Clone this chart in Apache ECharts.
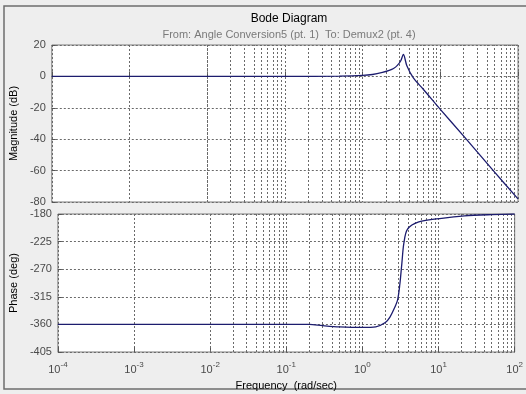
<!DOCTYPE html>
<html>
<head>
<meta charset="utf-8">
<script src="https://cdn.jsdelivr.net/npm/echarts@6/dist/echarts.min.js"></script>
<style>
	html, body { margin: 0; padding: 0; background: #eeeeee; }
	#main { width: 526px; height: 394px; }
</style>
</head>
<body>
<div id="main"></div>
<script>
// ==== data ====
const magFreq = [1e-4, 1e-3, 1e-2, 0.1, 0.5, 1, 1.34, 1.8, 2.2, 2.5, 2.8, 3.1, 3.35, 3.7, 4.5, 6, 10, 20, 50, 100];
const magDb = [0, 0, 0, 0, 0.2, 0.6, 1.2, 2.5, 3.8, 5, 7, 10, 14, 7, -1, -8, -21, -38, -61, -78];

const phaseFreq = [1e-4, 1e-3, 1e-2, 0.1, 0.2, 0.3, 0.5, 1, 1.5, 2, 2.3, 2.6, 2.9, 3.1, 3.3, 3.5, 3.9, 5.5, 11, 22, 50, 100];
const phaseDeg = [-360, -360, -360, -360, -360, -362, -364, -365, -364, -357, -348, -335, -320, -295, -260, -228, -205, -193, -187, -183, -181, -180];

const decades = [-4, -3, -2, -1, 0, 1];
const minorMult = [2, 3, 4, 5, 6, 7, 8, 9];

const titleText = "Bode Diagram";
const subText = "From: Angle Conversion5 (pt. 1)  To: Demux2 (pt. 4)";

// minor grid positions (2..9 per decade)
let minorGrid = [];
decades.forEach((k) => {
	minorMult.forEach((m) => minorGrid.push(m * Math.pow(10, k)));
});

var chartDom = document.getElementById("main");
var chart = echarts.init(chartDom);

const lineColor = "#1c1c6e";
const gridDash = { type: [2, 2], color: "#6a6a6a", width: 1 };
const labelColor = "#4a4a4a";
const font = "Liberation Sans, Arial, sans-serif";

function minorLines(axisIdx) {
	return {
		type: "line",
		xAxisIndex: axisIdx,
		yAxisIndex: axisIdx,
		data: [],
		silent: true,
		markLine: {
			silent: true,
			symbol: ["none", "none"],
			label: { show: false },
			lineStyle: gridDash,
			animation: false,
			data: minorGrid.map((v) => ({ xAxis: v })),
		},
	};
}

function xAxisBase(gridIdx, showLabels) {
	return {
		type: "log",
		logBase: 10,
		gridIndex: gridIdx,
		min: 1e-4,
		max: 100,
		splitNumber: 6,
		axisLine: { show: false },
		axisTick: { show: true, inside: true, length: 5, lineStyle: { color: "#555" } },
		splitLine: { show: true, lineStyle: gridDash },
		axisLabel: {
			show: showLabels,
			margin: 9,
			color: labelColor,
			fontFamily: font,
			formatter: function (v) {
				const e = Math.round(Math.log10(v));
				return "{b|10}{s|" + e + "}";
			},
			rich: {
				b: { fontSize: 11, color: labelColor, fontFamily: font },
				s: { fontSize: 8, color: labelColor, fontFamily: font, padding: [0, 0, 9, 0] },
			},
		},
	};
}

var option = {
	backgroundColor: "#eeeeee",
	animation: false,
	textStyle: { fontFamily: font },
	title: {
		text: titleText,
		subtext: subText,
		left: 284,
		top: 8,
		textAlign: "center",
		itemGap: 4,
		textStyle: { fontSize: 12, fontWeight: "normal", color: "#000", fontFamily: font },
		subtextStyle: { fontSize: 11, color: "#7a7a7a", fontFamily: font },
	},
	graphic: [
		{
			type: "rect",
			shape: { x: 4, y: 6, width: 540, height: 383 },
			style: { fill: "none", stroke: "#6e6e6e", lineWidth: 1.5 },
			silent: true,
		},
	],
	grid: [
		{ left: 51, right: 8, top: 45, height: 157, show: true, backgroundColor: "#fff", borderColor: "#7a7a7a", borderWidth: 1 },
		{ left: 51, right: 8, top: 214, height: 138, show: true, backgroundColor: "#fff", borderColor: "#7a7a7a", borderWidth: 1 },
	],
	xAxis: [
		xAxisBase(0, false),
		Object.assign(xAxisBase(1, true), {
			name: "Frequency  (rad/sec)",
			nameLocation: "middle",
			nameGap: 28,
			nameTextStyle: { fontSize: 11, color: "#000", fontFamily: font },
		}),
	],
	yAxis: [
		{
			type: "value",
			gridIndex: 0,
			min: -80,
			max: 20,
			interval: 20,
			name: "Magnitude (dB)",
			nameLocation: "middle",
			nameGap: 30,
			nameTextStyle: { fontSize: 11, color: "#000", fontFamily: font },
			axisLine: { show: false },
			axisTick: { show: true, inside: true, length: 4, lineStyle: { color: "#555" } },
			splitLine: { show: true, lineStyle: gridDash },
			axisLabel: { color: labelColor, fontSize: 11, margin: 6, fontFamily: font },
		},
		{
			type: "value",
			gridIndex: 1,
			min: -405,
			max: -180,
			interval: 45,
			name: "Phase (deg)",
			nameLocation: "middle",
			nameGap: 30,
			nameTextStyle: { fontSize: 11, color: "#000", fontFamily: font },
			axisLine: { show: false },
			axisTick: { show: true, inside: true, length: 4, lineStyle: { color: "#555" } },
			splitLine: { show: true, lineStyle: gridDash },
			axisLabel: { color: labelColor, fontSize: 11, margin: 6, fontFamily: font },
		},
	],
	series: [
		minorLines(0),
		minorLines(1),
		{
			name: "Magnitude",
			type: "line",
			xAxisIndex: 0,
			yAxisIndex: 0,
			showSymbol: false,
			smooth: 0.3,
			data: magFreq.map((f, i) => [f, magDb[i]]),
			lineStyle: { color: lineColor, width: 1.3 },
			z: 5,
		},
		{
			name: "Phase",
			type: "line",
			xAxisIndex: 1,
			yAxisIndex: 1,
			showSymbol: false,
			smooth: 0.3,
			data: phaseFreq.map((f, i) => [f, phaseDeg[i]]),
			lineStyle: { color: lineColor, width: 1.3 },
			z: 5,
		},
	],
};

option && chart.setOption(option);
</script>
</body>
</html>
